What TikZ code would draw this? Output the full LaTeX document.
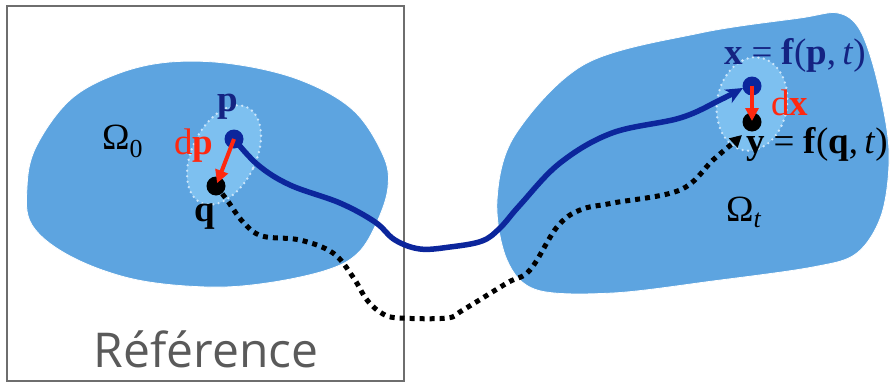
\documentclass[tikz,border=0pt]{standalone}
\usepackage{fontspec}
\setmainfont{Liberation Serif}
\newfontfamily\reffont{Open Sans}
\usetikzlibrary{arrows.meta}
\definecolor{blobc}{RGB}{93,164,224}
\definecolor{lightc}{RGB}{125,192,240}
\definecolor{rimc}{RGB}{205,230,250}
\definecolor{navyc}{RGB}{12,38,156}
\definecolor{labnavy}{RGB}{20,35,130}
\definecolor{redc}{RGB}{255,40,15}
\definecolor{framec}{RGB}{110,110,110}
\definecolor{refc}{RGB}{90,90,90}
\tikzset{
  blobshape/.style={fill=blobc, draw=white, line width=0.8pt},
  zone/.style={fill=lightc, draw=rimc, line width=2.6pt, dash pattern=on 0pt off 5.5pt, line cap=round},
  pointdot/.style={circle, inner sep=0pt, minimum size=19pt},
  redarrow/.style={draw=redc, line width=4pt, -{Triangle[length=13pt,width=13pt]}},
  trajp/.style={draw=navyc, line width=5.5pt, line cap=round, -{Stealth[length=17pt,width=15pt,inset=5pt]}},
  trajq/.style={draw=black, line width=5pt, dash pattern=on 5pt off 5pt, -{Triangle[length=12pt,width=12pt]}},
  lab/.style={font=\fontsize{37}{41}\selectfont, inner sep=0pt},
  reftext/.style={font=\reffont\fontsize{48}{52}\selectfont, text=refc, inner sep=0pt},
}
\newcommand{\eqsign}{\hspace{0.24em}=\hspace{0.24em}}
\begin{document}
\begin{tikzpicture}[x=1pt,y=-1pt]
\useasboundingbox (0,0) rectangle (895,383);
% frame
\draw[framec, line width=2pt] (7,6) rectangle (404,381);
% blobs
\path[blobshape] plot[smooth cycle, tension=0.6] coordinates {
 (170,62) (233,64) (300,80) (353,110) (383,155) (388,187) (377,222) (358,253)
 (327,270) (267,283) (207,287) (133,279) (70,256) (32,225) (27,187) (36,147) (70,100) (117,74)};
\path[blobshape] plot[smooth cycle, tension=0.55] coordinates {
 (585,64) (700,33) (800,18) (838,13) (860,30) (877,80) (889,150) (882,213) (857,253)
 (813,267) (713,281) (613,293) (537,290) (507,260) (497,200) (515,135)};
% zones
\path[zone] (224,155) ellipse [x radius=32, y radius=53, rotate=-26];
\path[zone] (752,104) ellipse [x radius=35, y radius=47, rotate=-10];
% points
\node[pointdot, fill=navyc] (pdot) at (234,139) {};
\node[pointdot, fill=black] (qdot) at (216,186) {};
\node[pointdot, fill=navyc] (xdot) at (752,86) {};
\node[pointdot, fill=black] (ydot) at (752,122) {};
% trajectories
\coordinate (xend) at (743,88);
\coordinate (yend) at (742,135);
\draw[trajp] plot[smooth, tension=0.6] coordinates {
 (pdot.center) (258,165) (290,185) (340,203) (375,222) (395,240) (420,249) (450,247)
 (482,241) (500,228) (520,205) (560,163) (612,133) (680,118) (720,100) (xend)};
\draw[trajq] plot[smooth, tension=0.6] coordinates {
 (qdot.center) (227,200) (243,222) (262,236) (300,240) (333,253) (353,277) (367,300)
 (383,314) (400,318) (447,318) (463,310) (507,283) (530,270) (557,227) (580,210)
 (613,203) (680,190) (713,160) (733,143) (yend)};
% red displacement arrows
\draw[redarrow, shorten >=3pt] (pdot.center) -- (qdot.center);
\draw[redarrow, shorten >=1pt] (xdot.center) -- (ydot.center);
% labels
\node[lab, text=labnavy, anchor=base west] (plab) at (217,111) {\textbf{p}};
\node[lab, anchor=base west] (qlab) at (194,221) {\textbf{q}};
\node[lab, text=redc, anchor=base west] (dplab) at (174,154) {d\textbf{p}};
\node[lab, anchor=base west] (om0) at (102,149) {Ω\textsubscript{0}};
\node[lab, text=labnavy, anchor=base west] (xlab) at (724,64) {\textbf{x}\eqsign\textbf{f}(\textbf{p},\,\textit{t})};
\node[lab, text=redc, anchor=base west] (dxlab) at (771,115) {d\textbf{x}};
\node[lab, anchor=base west] (ylab) at (746,153) {\textbf{y}\eqsign\textbf{f}(\textbf{q},\,\textit{t})};
\node[lab, anchor=base west] (omt) at (726,221) {Ω\textsubscript{\textit{t}}};
\node[reftext, anchor=base] (ref) at (206,367) {Référence};
\end{tikzpicture}
\end{document}
